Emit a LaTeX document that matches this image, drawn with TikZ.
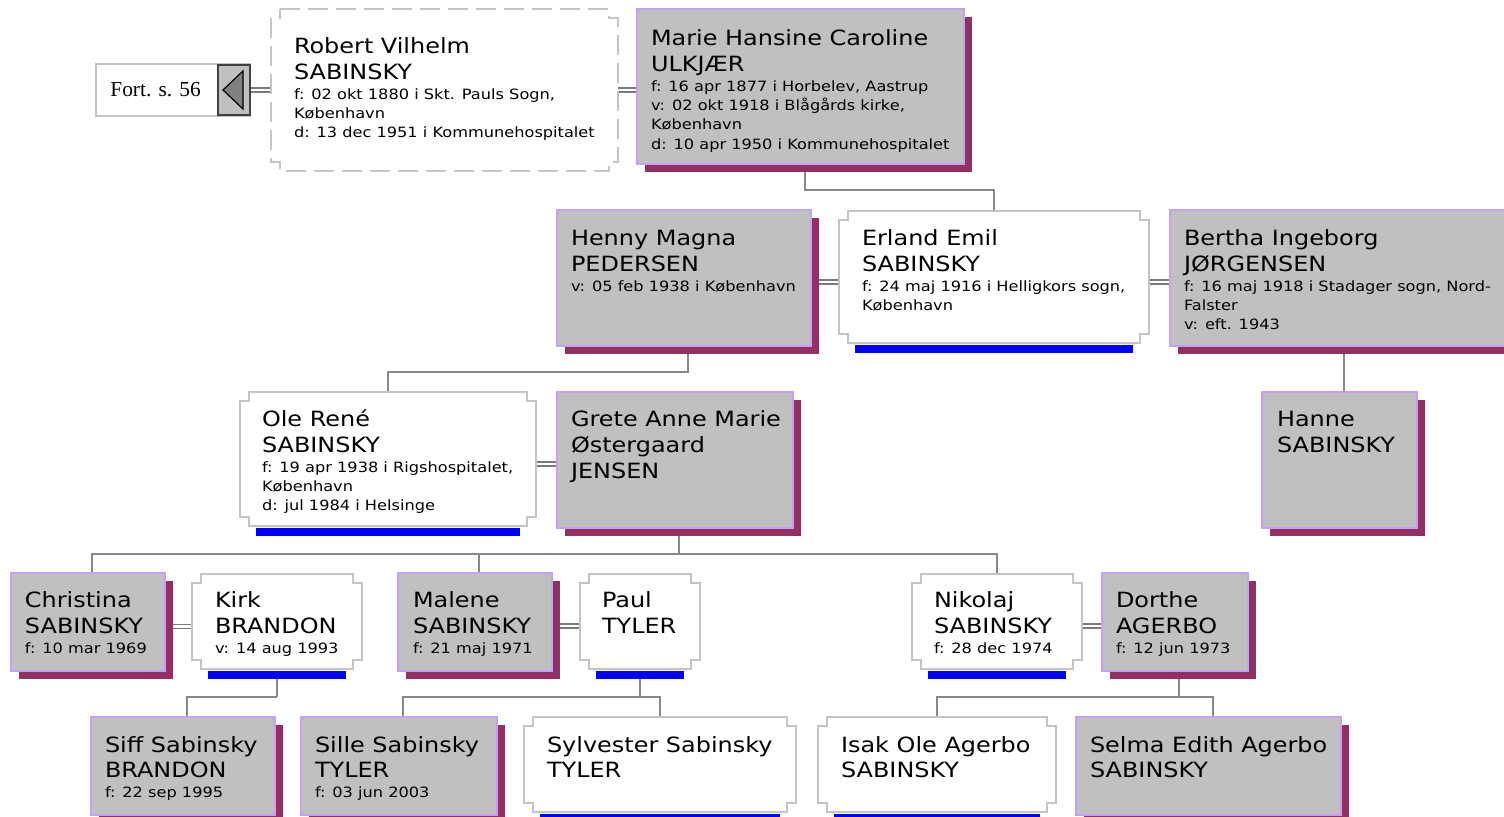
\documentclass[tikz,border=0pt]{standalone}
\usepackage{fontspec}
\setmainfont{DejaVu Sans}[FakeStretch=1.14]
\newfontfamily\fortfont{Liberation Serif}
\usetikzlibrary{shadows}
\pgfdeclarelayer{bg}
\pgfdeclarelayer{paper}
\pgfsetlayers{paper,bg,main}
\definecolor{boxgrey}{HTML}{C0C0C0}
\definecolor{boxpurple}{RGB}{196,160,248}
\definecolor{shadowc}{RGB}{147,48,97}
\definecolor{wborder}{HTML}{C4C4C4}
\definecolor{conngrey}{HTML}{888888}
\definecolor{trigrey}{HTML}{808080}
\newcommand{\namef}{\fontsize{10.5pt}{12.8pt}\selectfont}
\newcommand{\detf}{\fontsize{7.1pt}{9.6pt}\selectfont}
\tikzset{
  gbox/.style={anchor=north west, inner sep=0pt, outer sep=0pt, fill=boxgrey, draw=boxpurple, line width=1pt,
    general shadow={fill=shadowc, shadow xshift=4pt, shadow yshift=-4pt}},
  wbox/.style={anchor=north west, inner sep=0pt, outer sep=0pt, fill=white},
  wline/.style={draw=wborder, line width=1pt},
  dline/.style={draw=wborder, line width=1pt, dash pattern=on 10pt off 4pt},
  namet/.style={anchor=north west, inner sep=0pt, outer sep=0pt, align=left, font=\namef},
  dett/.style={anchor=north west, inner sep=0pt, outer sep=0pt, align=left, font=\detf},
  conn/.style={draw=conngrey, line width=1pt},
  dbl/.style={draw=conngrey!90!black, line width=0.75pt, double=white, double distance=1.25pt},
  bluebar/.style={fill=blue},
}
\newcommand{\notchbox}[2]{%
  \draw[#2] ([xshift=4.5pt]#1.north west) -- ([xshift=-4.5pt]#1.north east) -- ++(0,-4.5pt) -- ++(4.5pt,0)
   -- ([yshift=4.5pt]#1.south east) -- ++(-4.5pt,0) -- ++(0,-4.5pt) -- ([xshift=4.5pt]#1.south west)
   -- ++(0,4.5pt) -- ++(-4.5pt,0) -- ([yshift=-4.5pt]#1.north west) -- ++(4.5pt,0) -- cycle;}
\newcommand{\bbar}[1]{\fill[bluebar] ([xshift=8pt,yshift=-1pt]#1.south west) rectangle ([xshift=-8pt,yshift=-5pt]#1.south east);}
% id, x inset, first baseline, names, details
\newcommand{\ptxt}[5]{%
  \node[namet] (#1-n) at ([xshift=#2]#1.north west) {\rule{0pt}{#3}#4\rule[-3.5pt]{0pt}{3.5pt}};
  \node[dett] (#1-d) at (#1-n.south west) {\rule{0pt}{6.5pt}#5};}
\newcommand{\pname}[4]{%
  \node[namet] (#1-n) at ([xshift=#2]#1.north west) {\rule{0pt}{#3}#4};}
\begin{document}
\begin{tikzpicture}[x=0.5pt, y=-0.5pt]
\clip (0,0) rectangle (1504,817);
\begin{pgfonlayer}{paper}
\fill[white] (0,0) rectangle (1504,817);
\end{pgfonlayer}

% ---------- Fort. box
\node[anchor=north west, inner sep=0pt, outer sep=0pt, minimum width=77pt, minimum height=26pt, draw=wborder, line width=1pt, fill=white] (fort) at (96,64) {};
\node[anchor=north east, inner sep=0pt, outer sep=0pt, minimum width=16pt, minimum height=25pt, fill=boxgrey, draw=black!75, line width=0.6pt] (fsq) at ([yshift=-0.5pt]fort.north east) {};
\draw[fill=trigrey, draw=black, line width=0.6pt] ([xshift=2.5pt]fsq.west) -- ([xshift=-3.5pt,yshift=9.5pt]fsq.east) -- ([xshift=-3.5pt,yshift=-9.5pt]fsq.east) -- cycle;
\node[anchor=base west, inner sep=0pt, font=\fortfont\fontsize{10.7pt}{12pt}\selectfont] (forttxt) at ([xshift=7pt,yshift=-3.5pt]fort.west) {Fort. s. 56};

% ---------- generation 1
\node[wbox, minimum width=173.5pt, minimum height=81pt] (robert) at (271,9) {};
\notchbox{robert}{dline}
\ptxt{robert}{11.5pt}{22.5pt}{Robert Vilhelm\\SABINSKY}{f: 02 okt 1880 i Skt. Pauls Sogn,\\København\\d: 13 dec 1951 i Kommunehospitalet}

\node[gbox, minimum width=163.5pt, minimum height=77.5pt] (marie) at (637,9) {};
\ptxt{marie}{7pt}{18.5pt}{Marie Hansine Caroline\\ULKJÆR}{f: 16 apr 1877 i Horbelev, Aastrup\\v: 02 okt 1918 i Blågårds kirke,\\København\\d: 10 apr 1950 i Kommunehospitalet}

% ---------- generation 2
\node[gbox, minimum width=127pt, minimum height=68pt] (henny) at (557,210) {};
\ptxt{henny}{7pt}{18pt}{Henny Magna\\PEDERSEN}{v: 05 feb 1938 i København}

\node[wbox, minimum width=155pt, minimum height=66pt] (erland) at (839,211) {};
\notchbox{erland}{wline}
\bbar{erland}
\ptxt{erland}{11.5pt}{17.5pt}{Erland Emil\\SABINSKY}{f: 24 maj 1916 i Helligkors sogn,\\København}

\node[gbox, minimum width=172.5pt, minimum height=68pt] (bertha) at (1170,210) {};
\ptxt{bertha}{7pt}{18pt}{Bertha Ingeborg\\JØRGENSEN}{f: 16 maj 1918 i Stadager sogn, Nord-\\Falster\\v: eft. 1943}

% ---------- generation 3
\node[wbox, minimum width=148pt, minimum height=67pt] (ole) at (240,392) {};
\notchbox{ole}{wline}
\bbar{ole}
\ptxt{ole}{11pt}{17.5pt}{Ole René\\SABINSKY}{f: 19 apr 1938 i Rigshospitalet,\\København\\d: jul 1984 i Helsinge}

\node[gbox, minimum width=118pt, minimum height=68pt] (grete) at (557,392) {};
\pname{grete}{7pt}{17.5pt}{Grete Anne Marie\\Østergaard\\JENSEN}

\node[gbox, minimum width=77.5pt, minimum height=68pt] (hanne) at (1262,392) {};
\pname{hanne}{7.5pt}{17.5pt}{Hanne\\SABINSKY}

% ---------- generation 4
\node[gbox, minimum width=77pt, minimum height=49pt] (christina) at (11,573) {};
\ptxt{christina}{7pt}{17.5pt}{Christina\\SABINSKY}{f: 10 mar 1969}

\node[wbox, minimum width=85pt, minimum height=47.5pt] (kirk) at (192,574) {};
\notchbox{kirk}{wline}
\bbar{kirk}
\ptxt{kirk}{11.5pt}{17pt}{Kirk\\BRANDON}{v: 14 aug 1993}

\node[gbox, minimum width=77pt, minimum height=49pt] (malene) at (398,573) {};
\ptxt{malene}{7.5pt}{17.5pt}{Malene\\SABINSKY}{f: 21 maj 1971}

\node[wbox, minimum width=60pt, minimum height=47.5pt] (paul) at (580,574) {};
\notchbox{paul}{wline}
\bbar{paul}
\pname{paul}{11pt}{17pt}{Paul\\TYLER}

\node[wbox, minimum width=85pt, minimum height=47.5pt] (nikolaj) at (912,574) {};
\notchbox{nikolaj}{wline}
\bbar{nikolaj}
\ptxt{nikolaj}{11pt}{17pt}{Nikolaj\\SABINSKY}{f: 28 dec 1974}

\node[gbox, minimum width=73pt, minimum height=49pt] (dorthe) at (1102,573) {};
\ptxt{dorthe}{7pt}{17.5pt}{Dorthe\\AGERBO}{f: 12 jun 1973}

% ---------- generation 5
\node[gbox, minimum width=92pt, minimum height=49pt] (siff) at (91,717) {};
\ptxt{siff}{7pt}{17.5pt}{Siff Sabinsky\\BRANDON}{f: 22 sep 1995}

\node[gbox, minimum width=98pt, minimum height=49pt] (sille) at (301,717) {};
\ptxt{sille}{7pt}{17.5pt}{Sille Sabinsky\\TYLER}{f: 03 jun 2003}

\node[wbox, minimum width=136pt, minimum height=47.5pt] (sylvester) at (524,717) {};
\notchbox{sylvester}{wline}
\bbar{sylvester}
\pname{sylvester}{11.5pt}{17.5pt}{Sylvester Sabinsky\\TYLER}

\node[wbox, minimum width=119pt, minimum height=47.5pt] (isak) at (818,717) {};
\notchbox{isak}{wline}
\bbar{isak}
\pname{isak}{11.5pt}{17.5pt}{Isak Ole Agerbo\\SABINSKY}

\node[gbox, minimum width=132.5pt, minimum height=49pt] (selma) at (1076,717) {};
\pname{selma}{7pt}{17.5pt}{Selma Edith Agerbo\\SABINSKY}

% ---------- connectors (behind boxes)
\coordinate (he) at ([yshift=-36pt]henny.north east);
\coordinate (eb) at ([yshift=-35.5pt]erland.north east);
\coordinate (og) at ([yshift=-36pt]ole.north east);
\coordinate (ck) at ([yshift=-26.75pt]christina.north east);
\coordinate (mp) at ([yshift=-26.5pt]malene.north east);
\coordinate (nd) at ([yshift=-26pt]nikolaj.north east);
\begin{pgfonlayer}{bg}
  \draw[dbl] (fort.east) -- (fort.east -| robert.west);
  \draw[dbl] (robert.east) -- (robert.east -| marie.west);
  \draw[dbl] (he) -- (he -| erland.west);
  \draw[dbl] (eb) -- (eb -| bertha.west);
  \draw[dbl] (og) -- (og -| grete.west);
  \draw[dbl] (ck) -- (ck -| kirk.west);
  \draw[dbl] (mp) -- (mp -| paul.west);
  \draw[dbl] (nd) -- (nd -| dorthe.west);

  \draw[conn] ([xshift=2pt,yshift=-4pt]marie.south) -- ++(0,-9pt) -| (erland.north);
  \draw[conn] ([xshift=2pt,yshift=-4pt]henny.south) -- ++(0,-9pt) -| (ole.north);
  \draw[conn] ([xshift=2pt]hanne.north) -- ([xshift=2pt]hanne.north |- bertha.south);

  \draw[conn] ([xshift=2pt,yshift=-4pt]grete.south) -- ++(0,-9pt) coordinate (gbus);
  \draw[conn] ([xshift=2pt]christina.north) |- (gbus);
  \draw[conn] ([xshift=2pt]malene.north) |- (gbus);
  \draw[conn] (nikolaj.north) |- (gbus);

  \draw[conn] ([yshift=-5pt]kirk.south) -- ++(0,-9pt) coordinate (kbus);
  \draw[conn] ([xshift=2pt]siff.north) |- (kbus);

  \draw[conn] ([yshift=-5pt]paul.south) -- ++(0,-9pt) coordinate (pbus);
  \draw[conn] ([xshift=2pt]sille.north) |- (pbus);
  \draw[conn] (sylvester.north) |- (pbus);

  \draw[conn] ([xshift=2pt,yshift=-4pt]dorthe.south) -- ++(0,-9pt) coordinate (dbus);
  \draw[conn] (isak.north) |- (dbus);
  \draw[conn] ([xshift=2pt]selma.north) |- (dbus);
\end{pgfonlayer}
\end{tikzpicture}
\end{document}
